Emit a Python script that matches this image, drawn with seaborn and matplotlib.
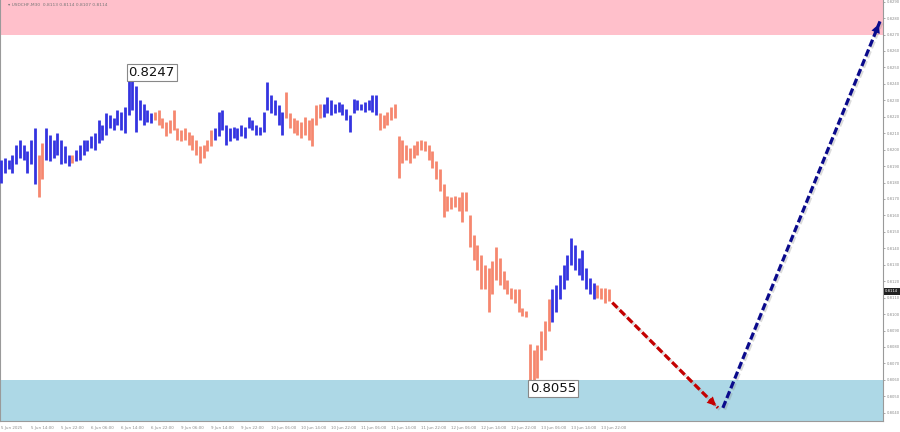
import matplotlib
matplotlib.use("Agg")
import matplotlib.pyplot as plt
import matplotlib.patheffects as pe
from matplotlib.ticker import MultipleLocator, FormatStrFormatter
import seaborn as sns
import pandas as pd

# USDCHF M30 wave chart with forecast arrows

# ---- data (prices, one bar per hour) ----
bar_high = [
    0.8194, 0.8195, 0.8194, 0.8197, 0.8203, 0.8206, 0.8203, 0.8199, 0.8206, 0.8213,
    0.8197, 0.8204, 0.8213, 0.8209, 0.8206, 0.8210, 0.8206, 0.8202, 0.8197, 0.8197,
    0.8200, 0.8203, 0.8206, 0.8206, 0.8208, 0.8210, 0.8218, 0.8215, 0.8222, 0.8221,
    0.8219, 0.8224, 0.8223, 0.8226, 0.8247, 0.8242, 0.8239, 0.8230, 0.8228, 0.8224,
    0.8222, 0.8223, 0.8224, 0.8219, 0.8217, 0.8218, 0.8224, 0.8213, 0.8212, 0.8213,
    0.8211, 0.8209, 0.8206, 0.8202, 0.8203, 0.8206, 0.8212, 0.8213, 0.8223, 0.8224,
    0.8215, 0.8213, 0.8214, 0.8213, 0.8215, 0.8214, 0.8220, 0.8218, 0.8215, 0.8214,
    0.8223, 0.8241, 0.8233, 0.8230, 0.8227, 0.8223, 0.8235, 0.8222, 0.8219, 0.8218,
    0.8217, 0.8220, 0.8218, 0.8219, 0.8227, 0.8228, 0.8228, 0.8232, 0.8230, 0.8228,
    0.8229, 0.8228, 0.8225, 0.8221, 0.8231, 0.8230, 0.8228, 0.8229, 0.8230, 0.8233,
    0.8233, 0.8222, 0.8221, 0.8223, 0.8226, 0.8228, 0.8208, 0.8206, 0.8203, 0.8201,
    0.8203, 0.8205, 0.8206, 0.8205, 0.8203, 0.8199, 0.8193, 0.8188, 0.8179, 0.8172,
    0.8171, 0.8172, 0.8171, 0.8174, 0.8174, 0.8160, 0.8148, 0.8142, 0.8136, 0.8130,
    0.8128, 0.8132, 0.8141, 0.8134, 0.8126, 0.8121, 0.8116, 0.8115, 0.8115, 0.8104,
    0.8102, 0.8082, 0.8078, 0.8081, 0.8090, 0.8096, 0.8109, 0.8115, 0.8118, 0.8124,
    0.8130, 0.8136, 0.8146, 0.8142, 0.8134, 0.8139, 0.8128, 0.8122, 0.8119, 0.8118,
    0.8116, 0.8116, 0.8115,
]
bar_low = [
    0.8180, 0.8186, 0.8188, 0.8186, 0.8191, 0.8195, 0.8194, 0.8186, 0.8191, 0.8179,
    0.8171, 0.8182, 0.8194, 0.8193, 0.8195, 0.8197, 0.8191, 0.8192, 0.8190, 0.8192,
    0.8193, 0.8194, 0.8197, 0.8199, 0.8201, 0.8200, 0.8204, 0.8206, 0.8209, 0.8213,
    0.8212, 0.8215, 0.8212, 0.8210, 0.8221, 0.8224, 0.8211, 0.8218, 0.8215, 0.8217,
    0.8216, 0.8218, 0.8215, 0.8213, 0.8208, 0.8210, 0.8212, 0.8206, 0.8205, 0.8206,
    0.8203, 0.8200, 0.8197, 0.8192, 0.8195, 0.8199, 0.8202, 0.8206, 0.8208, 0.8212,
    0.8203, 0.8205, 0.8207, 0.8206, 0.8208, 0.8207, 0.8213, 0.8212, 0.8209, 0.8209,
    0.8211, 0.8224, 0.8222, 0.8221, 0.8215, 0.8209, 0.8219, 0.8213, 0.8210, 0.8209,
    0.8207, 0.8209, 0.8206, 0.8202, 0.8215, 0.8219, 0.8220, 0.8222, 0.8221, 0.8222,
    0.8223, 0.8221, 0.8218, 0.8211, 0.8222, 0.8224, 0.8224, 0.8223, 0.8224, 0.8223,
    0.8221, 0.8212, 0.8213, 0.8215, 0.8218, 0.8219, 0.8183, 0.8192, 0.8194, 0.8192,
    0.8195, 0.8197, 0.8200, 0.8199, 0.8194, 0.8189, 0.8182, 0.8175, 0.8159, 0.8163,
    0.8164, 0.8165, 0.8163, 0.8156, 0.8163, 0.8141, 0.8133, 0.8127, 0.8115, 0.8115,
    0.8101, 0.8112, 0.8121, 0.8118, 0.8115, 0.8112, 0.8109, 0.8107, 0.8101, 0.8099,
    0.8098, 0.8055, 0.8060, 0.8061, 0.8072, 0.8078, 0.8090, 0.8095, 0.8101, 0.8109,
    0.8115, 0.8121, 0.8130, 0.8127, 0.8124, 0.8121, 0.8115, 0.8112, 0.8109, 0.8110,
    0.8109, 0.8107, 0.8108,
]

# wave segments: first bar index of each leg and its direction
wave_start = [0, 10, 12, 19, 20, 41, 57, 76, 86, 101, 147, 159]
wave_dir = ['up', 'down', 'up', 'down', 'up', 'down', 'up', 'down', 'up', 'down', 'up', 'down']

# forecast legs (bar index, price)
down_leg_idx = [163.0, 191.2]
down_leg_price = [0.8107, 0.8043]
up_leg_idx = [192.5, 234.4]
up_leg_price = [0.8043, 0.8278]

# zones
resistance_zone = (0.8270, 0.8300)
support_zone = (0.8020, 0.8060)

# labels
peak_idx, peak_price = 34, 0.8247
trough_idx, trough_price = 141, 0.8055
current_price = 0.8114
header = "\u25be USDCHF,M30  0.8113 0.8114 0.8107 0.8114"
time_labels = [
    "5 Jun 2025", "5 Jun 14:00", "5 Jun 22:00", "6 Jun 06:00", "6 Jun 14:00",
    "6 Jun 22:00", "9 Jun 06:00", "9 Jun 14:00", "9 Jun 22:00", "10 Jun 06:00",
    "10 Jun 14:00", "10 Jun 22:00", "11 Jun 06:00", "11 Jun 14:00", "11 Jun 22:00",
    "12 Jun 06:00", "12 Jun 14:00", "12 Jun 22:00", "13 Jun 06:00", "13 Jun 14:00",
    "13 Jun 22:00",
]
hours_per_label = 8

# ---- build frame ----
df = pd.DataFrame({'idx': range(len(bar_high)), 'high': bar_high, 'low': bar_low})
direction = []
for i in df['idx']:
    seg = max(k for k, s in enumerate(wave_start) if s <= i)
    direction.append(wave_dir[seg])
df['dir'] = direction

# ---- plot ----
sns.set_theme(style="white")
plt.rcParams['font.family'] = ['DejaVu Sans']

UP_COLOR = '#3434e0'
DOWN_COLOR = '#f6876f'
AXIS_GREY = '#9a9a9a'
TEXT_GREY = '#8a8a8a'

fig = plt.figure(figsize=(9, 4.32), dpi=100)
ax = fig.add_axes([0.0, 11 / 432, 883 / 900, 421 / 432])

ax.axhspan(*resistance_zone, color='#ffc0cb', lw=0, zorder=0)
ax.axhspan(*support_zone, color='#add8e6', lw=0, zorder=0)

for d, col in [('up', UP_COLOR), ('down', DOWN_COLOR)]:
    sub = df[df['dir'] == d]
    ax.vlines(sub['idx'], sub['low'], sub['high'], color=col, lw=2.0, zorder=3)

# forecast legs
shadow = [pe.SimpleLineShadow(offset=(1.2, -1.2), shadow_color='#888888', alpha=0.3), pe.Normal()]
for xs, ys, col in [(down_leg_idx, down_leg_price, '#c40000'), (up_leg_idx, up_leg_price, '#0a0a8c')]:
    ax.plot(xs, ys, color=col, lw=2.3, dashes=(2.3, 1.0), zorder=5, path_effects=shadow,
            dash_capstyle='butt')
    ax.annotate('', xy=(xs[1], ys[1]),
                xytext=(xs[1] - (xs[1] - xs[0]) * 0.06, ys[1] - (ys[1] - ys[0]) * 0.06),
                arrowprops=dict(arrowstyle='-|>', color=col, lw=0, mutation_scale=16),
                zorder=6)

# extreme labels
box = dict(boxstyle='square,pad=0.15', fc='white', ec='#888888', lw=0.8)
ax.text(peak_idx, peak_price, f"{peak_price:.4f}", fontsize=9.5, color='#111111',
        ha='left', va='center', bbox=box, zorder=7)
ax.text(trough_idx, trough_price, f"{trough_price:.4f}", fontsize=9.5, color='#111111',
        ha='left', va='center', bbox=box, zorder=7)

# axes styling
ax.set_xlim(-0.27, 235.2)
ax.set_ylim(0.80350, 0.82910)
ax.yaxis.tick_right()
ax.yaxis.set_major_locator(MultipleLocator(0.001))
ax.yaxis.set_major_formatter(FormatStrFormatter('%.4f'))
ax.set_xticks([k * hours_per_label for k in range(len(time_labels))])
ax.set_xticklabels(time_labels, ha='left')
ax.tick_params(axis='x', labelsize=2.9, colors=TEXT_GREY, length=2, width=0.5, pad=1.5)
ax.tick_params(axis='y', labelsize=2.7, colors=TEXT_GREY, length=1.5, width=0.5, pad=1)
for side in ['left', 'bottom', 'right']:
    ax.spines[side].set_color(AXIS_GREY)
    ax.spines[side].set_linewidth(0.8)
ax.spines['top'].set_visible(False)

# current price marker on the price scale
ax.annotate(f"{current_price:.4f}", xy=(1.0, current_price), xycoords=('axes fraction', 'data'),
            xytext=(1.5, 0), textcoords='offset points', fontsize=2.7, color='white',
            ha='left', va='center', annotation_clip=False,
            bbox=dict(boxstyle='square,pad=0.4', fc='#222222', ec='none'))

fig.text(8 / 900, 1 - 5 / 432, header, fontsize=3.2, color='#777777', ha='left', va='center')

fig.savefig('out.png', dpi=100, facecolor='white')
